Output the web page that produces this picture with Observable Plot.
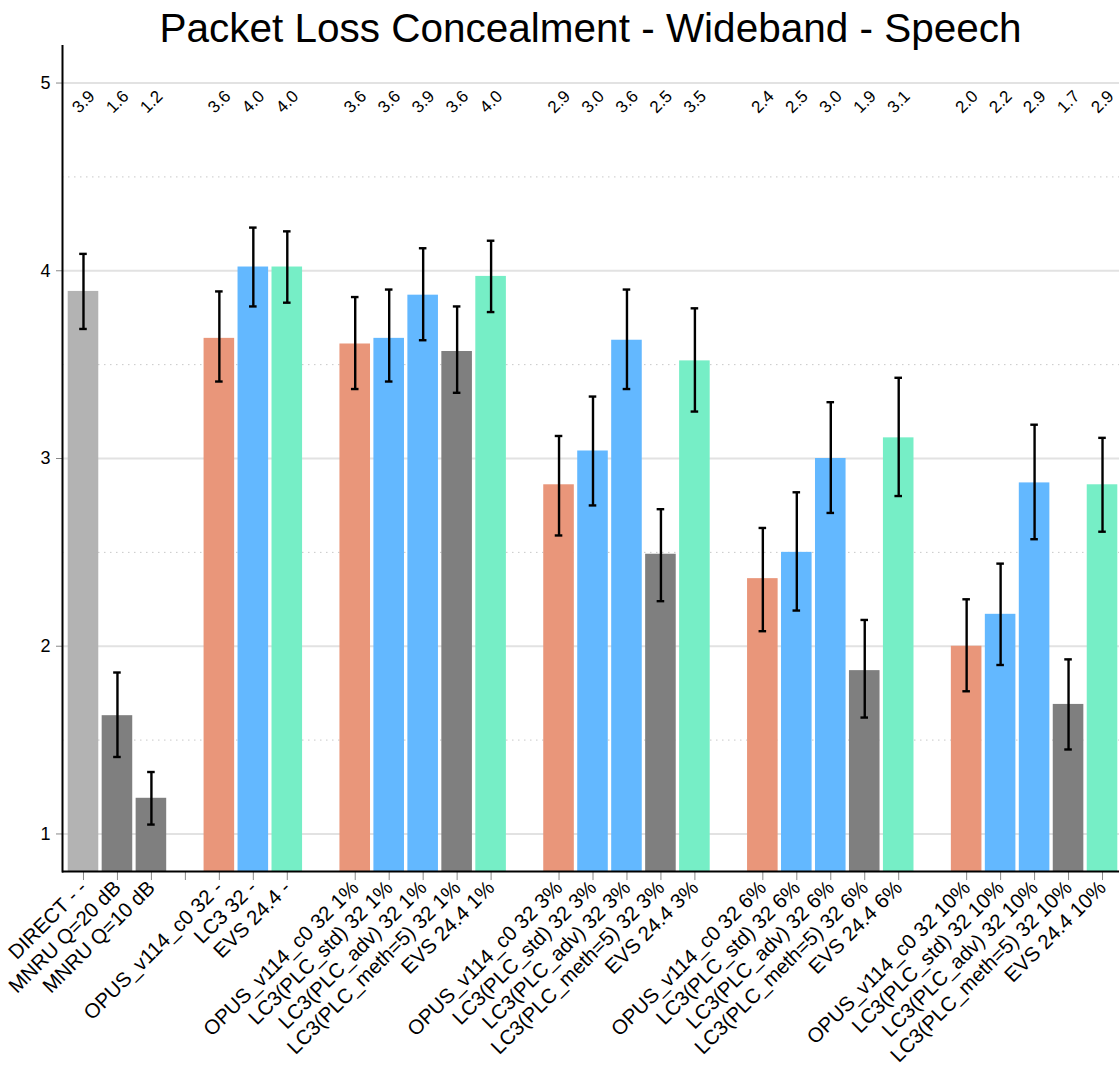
<!DOCTYPE html>
<html>
<head>
<meta charset="utf-8">
<script src="https://cdn.jsdelivr.net/npm/d3@7"></script>
<script src="https://cdn.jsdelivr.net/npm/@observablehq/plot@0.6"></script>
<style>
  body { margin: 0; background: #fff; font-family: "Liberation Sans", Arial, Helvetica, sans-serif; }
  #title {
    box-sizing: border-box;
    width: 1119px; height: 45px; padding: 8px 0 0 62px;
    font-size: 40.5px; line-height: 40px; text-align: center; color: #000;
    white-space: nowrap;
  }
  #chart svg { display: block; }
</style>
</head>
<body>
<div id="title">Packet Loss Concealment - Wideband - Speech</div>
<div id="chart"></div>
<script>
// Test conditions, grouped by packet loss rate (reference, clean, 1%, 3%, 6%, 10%)
const blocks = [
  ["DIRECT - -", "MNRU Q=20 dB", "MNRU Q=10 dB"],
  ["OPUS_v114_c0 32 -", "LC3 32 -", "EVS 24.4 -"],
  ["OPUS_v114_c0 32 1%", "LC3(PLC_std) 32 1%", "LC3(PLC_adv) 32 1%", "LC3(PLC_meth=5) 32 1%", "EVS 24.4 1%"],
  ["OPUS_v114_c0 32 3%", "LC3(PLC_std) 32 3%", "LC3(PLC_adv) 32 3%", "LC3(PLC_meth=5) 32 3%", "EVS 24.4 3%"],
  ["OPUS_v114_c0 32 6%", "LC3(PLC_std) 32 6%", "LC3(PLC_adv) 32 6%", "LC3(PLC_meth=5) 32 6%", "EVS 24.4 6%"],
  ["OPUS_v114_c0 32 10%", "LC3(PLC_std) 32 10%", "LC3(PLC_adv) 32 10%", "LC3(PLC_meth=5) 32 10%", "EVS 24.4 10%"]
];

// Codec family of each condition (drives the bar colour)
const kinds = [
  ["direct", "mnru", "mnru"],
  ["opus", "lc3", "evs"],
  ["opus", "lc3", "lc3", "meth5", "evs"],
  ["opus", "lc3", "lc3", "meth5", "evs"],
  ["opus", "lc3", "lc3", "meth5", "evs"],
  ["opus", "lc3", "lc3", "meth5", "evs"]
];

// Mean opinion scores
const means = [
  [3.89, 1.63, 1.19],
  [3.64, 4.02, 4.02],
  [3.61, 3.64, 3.87, 3.57, 3.97],
  [2.86, 3.04, 3.63, 2.49, 3.52],
  [2.36, 2.50, 3.00, 1.87, 3.11],
  [2.00, 2.17, 2.87, 1.69, 2.86]
];

// 95% confidence interval bounds
const lower = [
  [3.69, 1.41, 1.05],
  [3.41, 3.81, 3.83],
  [3.37, 3.41, 3.63, 3.35, 3.78],
  [2.59, 2.75, 3.37, 2.24, 3.25],
  [2.08, 2.19, 2.71, 1.62, 2.80],
  [1.76, 1.90, 2.57, 1.45, 2.61]
];
const upper = [
  [4.09, 1.86, 1.33],
  [3.89, 4.23, 4.21],
  [3.86, 3.90, 4.12, 3.81, 4.16],
  [3.12, 3.33, 3.90, 2.73, 3.80],
  [2.63, 2.82, 3.30, 2.14, 3.43],
  [2.25, 2.44, 3.18, 1.93, 3.11]
];

const kindNames = ["direct", "mnru", "opus", "lc3", "meth5", "evs"];
const kindColors = ["#b3b3b3", "#7f7f7f", "#e9967a", "#63b8ff", "#7f7f7f", "#76eec6"];

const yTicks = [1, 2, 3, 4, 5];
const yHalfTicks = [1.5, 2.5, 3.5, 4.5];
const yDomain = [0.8, 5.2];
const labelLevel = 4.9;

// Flatten into one row per bar
const rows = blocks.flatMap((b, i) => b.map((c, j) => ({
  condition: c, kind: kinds[i][j], mean: means[i][j], lo: lower[i][j], hi: upper[i][j]
})));

// Empty slots separate the groups; only the first one carries a tick
const gapKeys = blocks.slice(1).map((_, i) => " ".repeat(i + 1));
const domain = blocks.flatMap((b, i) => i < gapKeys.length ? [...b, gapKeys[i]] : b);
const tickKeys = domain.filter(k => !gapKeys.slice(1).includes(k));

const chart = Plot.plot({
  width: 1119,
  height: 1023,
  marginTop: 0,
  marginBottom: 197,
  marginLeft: 62,
  marginRight: 0,
  style: { fontFamily: "'Liberation Sans', Arial, Helvetica, sans-serif", background: "white", color: "black" },
  x: { type: "band", domain, paddingInner: 0.1, paddingOuter: 0.05, insetLeft: 4, round: false, label: null },
  y: { domain: yDomain, label: null },
  color: { domain: kindNames, range: kindColors },
  marks: [
    Plot.ruleY(yTicks, { stroke: "#e2e2e2", strokeWidth: 2 }),
    Plot.ruleY(yHalfTicks, { stroke: "#c8c8c8", strokeWidth: 1, strokeDasharray: "1.5 4.5" }),
    Plot.barY(rows, { x: "condition", y1: yDomain[0], y2: "mean", fill: "kind" }),
    Plot.ruleX(rows, { x: "condition", y1: "lo", y2: "hi", stroke: "black", strokeWidth: 2.4 }),
    Plot.tickY(rows, { x: "condition", y: "lo", stroke: "black", strokeWidth: 2.4, insetLeft: 11.5, insetRight: 11.5 }),
    Plot.tickY(rows, { x: "condition", y: "hi", stroke: "black", strokeWidth: 2.4, insetLeft: 11.5, insetRight: 11.5 }),
    Plot.text(rows, { x: "condition", y: () => labelLevel, text: d => d.mean.toFixed(1), rotate: -45, fontSize: 17, fill: "black" }),
    Plot.axisY({ ticks: yTicks, tickFormat: d3.format("d"), tickSize: 6, tickPadding: 6, stroke: "#888", fill: "black", fontSize: 18 }),
    Plot.axisX({ ticks: tickKeys, tickSize: 9, tickPadding: 4, tickRotate: -45, stroke: "#888", fill: "black", fontSize: 20.5 }),
    Plot.ruleY([yDomain[0]], { stroke: "black", strokeWidth: 2 }),
    Plot.frame({ anchor: "left", stroke: "black", strokeWidth: 2 })
  ]
});

document.getElementById("chart").appendChild(chart);
</script>
</body>
</html>
